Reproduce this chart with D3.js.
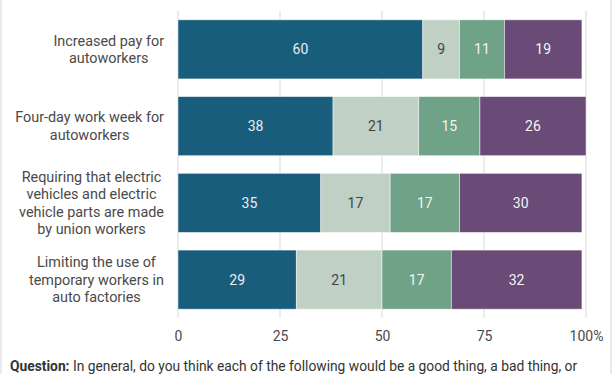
<!DOCTYPE html>
<html>
<head>
<meta charset="utf-8">
<script src="https://cdn.jsdelivr.net/npm/d3@7"></script>
<style>
  body { margin: 0; background: #fff; }
  svg { font-family: Roboto, "Open Sans", sans-serif; display: block; }
</style>
</head>
<body>
<svg></svg>
<script>
const width = 612;
const height = 374;

// data
const categories = [
  ["Increased pay for", "autoworkers"],
  ["Four-day work week for", "autoworkers"],
  ["Requiring that electric", "vehicles and electric", "vehicle parts are made", "by union workers"],
  ["Limiting the use of", "temporary workers in", "auto factories"]
];
const seriesNames = ["Good thing", "Neither", "Bad thing", "Other"];
const goodThing = [60, 38, 35, 29];
const neither = [9, 21, 17, 21];
const badThing = [11, 15, 17, 17];
const other = [19, 26, 30, 32];
const ticks = [0, 25, 50, 75, 100];
const colors = ["#185d7b", "#c0d0c5", "#6fa286", "#6a4a76"];
const labelColors = ["#e8eef0", "#444", "#f4f4f4", "#f4f4f4"];

const table = categories.map((c, i) => ({
  key: i,
  "Good thing": goodThing[i],
  "Neither": neither[i],
  "Bad thing": badThing[i],
  "Other": other[i]
}));

const svg = d3.select("svg")
  .attr("width", width)
  .attr("height", height);

// thin frame on the sides
svg.append("line").attr("x1", 1).attr("x2", 1).attr("y1", 0).attr("y2", height)
  .attr("stroke", "#e3e3e3").attr("stroke-width", 1.5);
svg.append("line").attr("x1", 611).attr("x2", 611).attr("y1", 0).attr("y2", height)
  .attr("stroke", "#e3e3e3").attr("stroke-width", 1.5);

const xScale = d3.scaleLinear()
  .domain([0, 100])
  .range([178, 586]);

const yScale = d3.scaleBand()
  .domain(table.map(d => d.key))
  .range([11, 318])
  .paddingInner(0.23)
  .paddingOuter(0.115);

// gridlines
svg.append("g")
  .selectAll("line")
  .data(ticks)
  .enter()
  .append("line")
  .attr("x1", d => xScale(d))
  .attr("x2", d => xScale(d))
  .attr("y1", 11)
  .attr("y2", 318)
  .attr("stroke", "#e6e6e6")
  .attr("stroke-width", 1.5);

// x axis
const xAxis = d3.axisBottom(xScale)
  .tickValues(ticks)
  .tickSize(0)
  .tickPadding(0)
  .tickFormat(d => d === 100 ? "100%" : d);

const gx = svg.append("g")
  .attr("transform", "translate(0,341)")
  .call(xAxis);
gx.select(".domain").remove();
gx.selectAll("text")
  .attr("dy", 0)
  .attr("font-size", 14)
  .attr("font-family", "Roboto, sans-serif")
  .attr("fill", "#4a4a4a");

// stacked bars
const stacked = d3.stack().keys(seriesNames)(table);

const layers = svg.append("g")
  .selectAll("g")
  .data(stacked)
  .enter()
  .append("g")
  .attr("fill", (d, i) => colors[i]);

layers.selectAll("rect")
  .data(d => d)
  .enter()
  .append("rect")
  .attr("x", d => xScale(d[0]))
  .attr("width", d => xScale(d[1]) - xScale(d[0]))
  .attr("y", d => yScale(d.data.key))
  .attr("height", yScale.bandwidth())
  .attr("stroke", "rgba(255,255,255,0.6)")
  .attr("stroke-width", 0.8);

layers.selectAll("text")
  .data((d, i) => d.map(v => ({ v, i })))
  .enter()
  .append("text")
  .attr("x", d => xScale((d.v[0] + d.v[1]) / 2))
  .attr("y", d => yScale(d.v.data.key) + yScale.bandwidth() / 2)
  .attr("dy", "0.35em")
  .attr("text-anchor", "middle")
  .attr("font-size", 14)
  .attr("fill", d => labelColors[d.i])
  .text(d => d.v[1] - d.v[0]);

// category labels: block right-aligned at 164, lines centred inside it
const catLabels = svg.append("g")
  .selectAll("text")
  .data(categories)
  .enter()
  .append("text")
  .attr("text-anchor", "middle")
  .attr("font-size", 14.4)
  .attr("fill", "#4a4a4a");

catLabels.selectAll("tspan")
  .data(d => d.map((line, j) => ({ line, j, n: d.length })))
  .enter()
  .append("tspan")
  .attr("x", 0)
  .attr("y", d => (d.j - (d.n - 1) / 2) * 17.5)
  .attr("dy", "0.35em")
  .text(d => d.line);

catLabels.each(function(d, i) {
  const w = d3.max(d3.select(this).selectAll("tspan").nodes(), n => n.getComputedTextLength());
  d3.select(this).attr("transform", `translate(${164 - w / 2},${yScale(i) + yScale.bandwidth() / 2})`);
});

// question note
const note = svg.append("text")
  .attr("x", 10)
  .attr("y", 371)
  .attr("font-size", 13.8)
  .attr("fill", "#333");
note.append("tspan").attr("font-weight", "bold").text("Question:");
note.append("tspan").text(" In general, do you think each of the following would be a good thing, a bad thing, or");
</script>
</body>
</html>
